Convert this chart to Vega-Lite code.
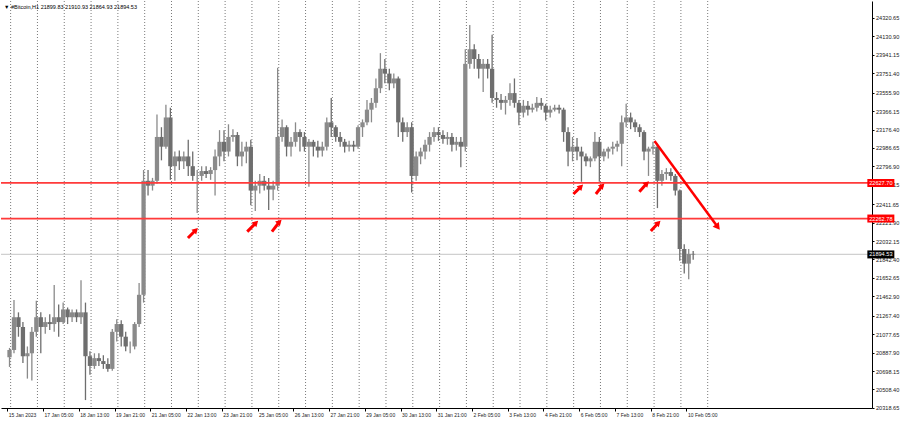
{
"$schema": "https://vega.github.io/schema/vega-lite/v6.json",
"width": 871, "height": 407,
"autosize": {"type": "none"},
"padding": {"left": 1, "top": 1, "right": 28, "bottom": 15},
"background": "#ffffff",
"config": {"view": {"stroke": null}, "font": "Liberation Sans",
  "axis": {"labelOverlap": false, "labelBound": false, "labelFlush": false, "grid": false, "domainColor": "#000000", "tickColor": "#000000", "labelColor": "#222222", "labelFont": "Liberation Sans"},
  "axisY": {"labelFontSize": 5.6, "tickSize": 2, "labelPadding": 1.5, "labelOverlap": false},
  "axisX": {"labelFontSize": 5, "tickSize": 3, "labelPadding": 1, "labelOverlap": false}},
"title": {"text": "▼  #Bitcoin,H1  21899.83 21910.93 21864.93 21894.53", "anchor": "start", "frame": "group", "offset": -10, "dx": 3, "fontSize": 5.5, "fontWeight": "normal", "font": "Liberation Sans", "color": "#000000"},
"datasets": {
"candles": [
{"h":2,"o":20840,"hi":20935,"lo":20740,"c":20914},
{"h":6,"o":20914,"hi":21427,"lo":20880,"c":21250},
{"h":10,"o":21250,"hi":21300,"lo":21050,"c":21150},
{"h":14,"o":21150,"hi":21200,"lo":20780,"c":20850},
{"h":18,"o":20850,"hi":20950,"lo":20620,"c":20880},
{"h":22,"o":20880,"hi":21150,"lo":20600,"c":21100},
{"h":26,"o":21100,"hi":21420,"lo":21050,"c":21250},
{"h":30,"o":21250,"hi":21300,"lo":20880,"c":21150},
{"h":34,"o":21150,"hi":21250,"lo":21080,"c":21200},
{"h":38,"o":21200,"hi":21280,"lo":21120,"c":21180},
{"h":42,"o":21180,"hi":21580,"lo":21100,"c":21250},
{"h":46,"o":21250,"hi":21380,"lo":21050,"c":21200},
{"h":50,"o":21200,"hi":21400,"lo":21180,"c":21330},
{"h":54,"o":21330,"hi":21350,"lo":21180,"c":21250},
{"h":58,"o":21250,"hi":21330,"lo":21200,"c":21300},
{"h":62,"o":21300,"hi":21330,"lo":21200,"c":21250},
{"h":66,"o":21250,"hi":21630,"lo":21180,"c":21300},
{"h":70,"o":21300,"hi":21400,"lo":20400,"c":20850},
{"h":74,"o":20850,"hi":20900,"lo":20660,"c":20750},
{"h":78,"o":20750,"hi":20880,"lo":20720,"c":20830},
{"h":82,"o":20830,"hi":20880,"lo":20750,"c":20800},
{"h":86,"o":20800,"hi":20860,"lo":20720,"c":20770},
{"h":90,"o":20770,"hi":20830,"lo":20690,"c":20720},
{"h":94,"o":20720,"hi":21130,"lo":20700,"c":21100},
{"h":98,"o":21100,"hi":21230,"lo":21000,"c":21180},
{"h":102,"o":21180,"hi":21220,"lo":20950,"c":21050},
{"h":106,"o":21050,"hi":21100,"lo":20900,"c":20950},
{"h":110,"o":20950,"hi":21000,"lo":20880,"c":20950},
{"h":114,"o":20950,"hi":21200,"lo":20920,"c":21180},
{"h":118,"o":21180,"hi":21600,"lo":21150,"c":21480},
{"h":122,"o":21480,"hi":22761,"lo":21400,"c":22650},
{"h":126,"o":22650,"hi":22760,"lo":22500,"c":22600},
{"h":130,"o":22600,"hi":22680,"lo":22550,"c":22650},
{"h":134,"o":22650,"hi":23330,"lo":22620,"c":23100},
{"h":138,"o":23100,"hi":23200,"lo":22860,"c":23000},
{"h":142,"o":23000,"hi":23430,"lo":22980,"c":23300},
{"h":146,"o":23300,"hi":23400,"lo":22660,"c":22800},
{"h":150,"o":22800,"hi":22950,"lo":22650,"c":22900},
{"h":154,"o":22900,"hi":22960,"lo":22760,"c":22850},
{"h":158,"o":22850,"hi":22950,"lo":22770,"c":22900},
{"h":162,"o":22900,"hi":23070,"lo":22700,"c":22800},
{"h":166,"o":22800,"hi":22950,"lo":22650,"c":22700},
{"h":170,"o":22700,"hi":22760,"lo":22320,"c":22700},
{"h":174,"o":22700,"hi":22800,"lo":22650,"c":22750},
{"h":178,"o":22750,"hi":22800,"lo":22680,"c":22720},
{"h":182,"o":22720,"hi":22790,"lo":22660,"c":22760},
{"h":186,"o":22760,"hi":22970,"lo":22500,"c":22900},
{"h":190,"o":22900,"hi":23170,"lo":22800,"c":23050},
{"h":194,"o":23050,"hi":23170,"lo":22850,"c":22950},
{"h":198,"o":22950,"hi":23230,"lo":22900,"c":23100},
{"h":202,"o":23100,"hi":23180,"lo":23050,"c":23120},
{"h":206,"o":23120,"hi":23150,"lo":22800,"c":22900},
{"h":210,"o":22900,"hi":23050,"lo":22800,"c":22950},
{"h":214,"o":22950,"hi":23050,"lo":22830,"c":23000},
{"h":218,"o":23000,"hi":23070,"lo":22400,"c":22550},
{"h":222,"o":22550,"hi":22650,"lo":22340,"c":22600},
{"h":226,"o":22600,"hi":22720,"lo":22520,"c":22650},
{"h":230,"o":22650,"hi":22700,"lo":22550,"c":22600},
{"h":234,"o":22600,"hi":22680,"lo":22350,"c":22560},
{"h":238,"o":22560,"hi":22650,"lo":22450,"c":22600},
{"h":242,"o":22600,"hi":23810,"lo":22550,"c":23100},
{"h":246,"o":23100,"hi":23280,"lo":23050,"c":23200},
{"h":250,"o":23200,"hi":23220,"lo":22900,"c":23000},
{"h":254,"o":23000,"hi":23100,"lo":22900,"c":23050},
{"h":258,"o":23050,"hi":23250,"lo":23000,"c":23150},
{"h":262,"o":23150,"hi":23180,"lo":22950,"c":23100},
{"h":266,"o":23100,"hi":23150,"lo":22950,"c":23000},
{"h":270,"o":23000,"hi":23080,"lo":22590,"c":23050},
{"h":274,"o":23050,"hi":23070,"lo":22900,"c":23000},
{"h":278,"o":23000,"hi":23060,"lo":22890,"c":22960},
{"h":282,"o":22960,"hi":23050,"lo":22900,"c":23000},
{"h":286,"o":23000,"hi":23300,"lo":22960,"c":23250},
{"h":290,"o":23250,"hi":23500,"lo":23100,"c":23200},
{"h":294,"o":23200,"hi":23220,"lo":23050,"c":23100},
{"h":298,"o":23100,"hi":23150,"lo":23000,"c":23050},
{"h":302,"o":23050,"hi":23080,"lo":22940,"c":23000},
{"h":306,"o":23000,"hi":23060,"lo":22950,"c":23020},
{"h":310,"o":23020,"hi":23060,"lo":22950,"c":23000},
{"h":314,"o":23000,"hi":23220,"lo":22980,"c":23200},
{"h":318,"o":23200,"hi":23280,"lo":23100,"c":23250},
{"h":322,"o":23250,"hi":23480,"lo":23220,"c":23380},
{"h":326,"o":23380,"hi":23500,"lo":23250,"c":23450},
{"h":330,"o":23450,"hi":23700,"lo":23400,"c":23600},
{"h":334,"o":23600,"hi":23960,"lo":23550,"c":23800},
{"h":338,"o":23800,"hi":23900,"lo":23650,"c":23750},
{"h":342,"o":23750,"hi":23800,"lo":23580,"c":23650},
{"h":346,"o":23650,"hi":23750,"lo":23600,"c":23700},
{"h":350,"o":23700,"hi":23720,"lo":23100,"c":23250},
{"h":354,"o":23250,"hi":23300,"lo":23050,"c":23150},
{"h":358,"o":23150,"hi":23250,"lo":23100,"c":23200},
{"h":362,"o":23200,"hi":23250,"lo":22530,"c":22700},
{"h":366,"o":22700,"hi":22950,"lo":22650,"c":22900},
{"h":370,"o":22900,"hi":22990,"lo":22820,"c":22950},
{"h":374,"o":22950,"hi":23070,"lo":22870,"c":23020},
{"h":378,"o":23020,"hi":23150,"lo":22950,"c":23100},
{"h":382,"o":23100,"hi":23200,"lo":23050,"c":23150},
{"h":386,"o":23150,"hi":23200,"lo":23060,"c":23120},
{"h":390,"o":23120,"hi":23170,"lo":23030,"c":23080},
{"h":394,"o":23080,"hi":23150,"lo":23020,"c":23100},
{"h":398,"o":23100,"hi":23140,"lo":22950,"c":23020},
{"h":402,"o":23020,"hi":23100,"lo":22960,"c":23050},
{"h":406,"o":23050,"hi":23100,"lo":22790,"c":23000},
{"h":410,"o":23000,"hi":24000,"lo":22950,"c":23850},
{"h":414,"o":23850,"hi":24250,"lo":23800,"c":24000},
{"h":418,"o":24000,"hi":24050,"lo":23800,"c":23900},
{"h":422,"o":23900,"hi":23950,"lo":23700,"c":23800},
{"h":426,"o":23800,"hi":23900,"lo":23560,"c":23850},
{"h":430,"o":23850,"hi":23900,"lo":23700,"c":23800},
{"h":434,"o":23800,"hi":24150,"lo":23450,"c":23500},
{"h":438,"o":23500,"hi":23560,"lo":23400,"c":23480},
{"h":442,"o":23480,"hi":23540,"lo":23380,"c":23450},
{"h":446,"o":23450,"hi":23520,"lo":23330,"c":23480},
{"h":450,"o":23480,"hi":23650,"lo":23420,"c":23550},
{"h":454,"o":23550,"hi":23700,"lo":23400,"c":23450},
{"h":458,"o":23450,"hi":23480,"lo":23220,"c":23350},
{"h":462,"o":23350,"hi":23480,"lo":23300,"c":23420},
{"h":466,"o":23420,"hi":23470,"lo":23320,"c":23380},
{"h":470,"o":23380,"hi":23440,"lo":23350,"c":23400},
{"h":474,"o":23400,"hi":23510,"lo":23360,"c":23450},
{"h":478,"o":23450,"hi":23500,"lo":23380,"c":23420},
{"h":482,"o":23420,"hi":23440,"lo":23270,"c":23350},
{"h":486,"o":23350,"hi":23420,"lo":23300,"c":23380},
{"h":490,"o":23380,"hi":23430,"lo":23360,"c":23400},
{"h":494,"o":23400,"hi":23430,"lo":23340,"c":23380},
{"h":498,"o":23380,"hi":23400,"lo":23050,"c":23150},
{"h":502,"o":23150,"hi":23200,"lo":22800,"c":22950},
{"h":506,"o":22950,"hi":23100,"lo":22850,"c":23000},
{"h":510,"o":23000,"hi":23090,"lo":22860,"c":22950},
{"h":514,"o":22950,"hi":23000,"lo":22640,"c":22900},
{"h":518,"o":22900,"hi":22930,"lo":22800,"c":22850},
{"h":522,"o":22850,"hi":22900,"lo":22790,"c":22880},
{"h":526,"o":22880,"hi":23150,"lo":22850,"c":23050},
{"h":530,"o":23050,"hi":23100,"lo":22640,"c":22900},
{"h":534,"o":22900,"hi":22980,"lo":22850,"c":22950},
{"h":538,"o":22950,"hi":23000,"lo":22880,"c":22980},
{"h":542,"o":22980,"hi":23050,"lo":22920,"c":23000},
{"h":546,"o":23000,"hi":23060,"lo":22950,"c":23030},
{"h":550,"o":23030,"hi":23320,"lo":22800,"c":23250},
{"h":554,"o":23250,"hi":23440,"lo":23200,"c":23300},
{"h":558,"o":23300,"hi":23350,"lo":23180,"c":23250},
{"h":562,"o":23250,"hi":23280,"lo":23150,"c":23200},
{"h":566,"o":23200,"hi":23230,"lo":23100,"c":23150},
{"h":570,"o":23150,"hi":23170,"lo":22860,"c":22950},
{"h":574,"o":22950,"hi":23000,"lo":22700,"c":22980},
{"h":578,"o":22980,"hi":23050,"lo":22920,"c":23000},
{"h":582,"o":23000,"hi":23030,"lo":22370,"c":22650},
{"h":586,"o":22650,"hi":22760,"lo":22600,"c":22720},
{"h":590,"o":22720,"hi":22780,"lo":22660,"c":22740},
{"h":594,"o":22740,"hi":22780,"lo":22650,"c":22700},
{"h":598,"o":22700,"hi":22720,"lo":22500,"c":22550},
{"h":602,"o":22550,"hi":22560,"lo":21830,"c":21950},
{"h":606,"o":21950,"hi":22000,"lo":21700,"c":21800},
{"h":610,"o":21800,"hi":21950,"lo":21640,"c":21900},
{"h":614,"o":21900,"hi":21930,"lo":21840,"c":21894.53}
],
"grid": [{"h":3},{"h":27},{"h":51},{"h":75},{"h":99},{"h":123},{"h":147},{"h":171},{"h":195},{"h":219},{"h":243},{"h":267},{"h":291},{"h":315},{"h":339},{"h":363},{"h":387},{"h":411},{"h":435},{"h":459},{"h":483},{"h":507},{"h":531},{"h":555},{"h":579},{"h":603},{"h":627}],
"levels": [{"p":22627.70,"kind":"level"},{"p":22262.78,"kind":"level"},{"p":21894.53,"kind":"bid"}],
"arrows": [
{"h1":161.7,"p1":22063,"h2":168.8,"p2":22145},
{"h1":214.8,"p1":22128,"h2":222.7,"p2":22220},
{"h1":236.9,"p1":22128,"h2":243.7,"p2":22230},
{"h1":506.8,"p1":22515,"h2":513.6,"p2":22590},
{"h1":526.9,"p1":22515,"h2":532.7,"p2":22600},
{"h1":565.8,"p1":22538,"h2":572.6,"p2":22624},
{"h1":576.1,"p1":22135,"h2":582.9,"p2":22220}
],
"trend": [{"h1":579.4,"p1":23058,"h2":636.0,"p2":22176}]
},
"layer": [
{"data": {"name": "grid"}, "mark": {"type": "rule", "stroke": "#7a7a7a", "strokeDash": [1, 2], "strokeWidth": 1},
 "encoding": {"x": {"field": "h", "type": "quantitative", "title": null,
   "scale": {"domain": [-1.15, 769.6], "nice": false, "zero": false},
   "axis": {"values": [0,32,64,96,128,160,192,224,256,288,320,352,384,416,448,480,512,544,576,608],
     "tickCount": 60,
     "labelExpr": "['15 Jan 2023','17 Jan 05:00','18 Jan 13:00','19 Jan 21:00','21 Jan 05:00','22 Jan 13:00','23 Jan 21:00','25 Jan 05:00','26 Jan 13:00','27 Jan 21:00','29 Jan 05:00','30 Jan 13:00','31 Jan 21:00','2 Feb 05:00','3 Feb 13:00','4 Feb 21:00','6 Feb 05:00','7 Feb 13:00','8 Feb 21:00','10 Feb 05:00'][round(datum.value/32)]",
     "labelAlign": "left", "labelOffset": 1, "labelOverlap": false, "title": null}}}},
{"data": {"name": "levels"}, "transform": [{"filter": "datum.kind == 'bid'"}],
 "mark": {"type": "rule", "stroke": "#d0d0d0", "strokeWidth": 1.3},
 "encoding": {"y": {"field": "p", "type": "quantitative", "title": null}}},
{"data": {"name": "candles"}, "mark": {"type": "rule", "strokeWidth": 1.3},
 "encoding": {
  "x": {"field": "h", "type": "quantitative", "title": null},
  "y": {"field": "lo", "type": "quantitative", "title": null,
    "scale": {"domain": [20318.5, 24495.1], "nice": false, "zero": false},
    "axis": {"orient": "right", "values": [24320.65,24130.90,23941.15,23751.40,23555.90,23366.15,23176.40,22986.65,22796.90,22607.15,22411.65,22221.90,22032.15,21842.40,21652.65,21462.90,21267.40,21077.65,20887.90,20698.15,20508.40,20318.65],
      "tickCount": 60, "format": ".2f", "labelOverlap": false, "title": null}},
  "y2": {"field": "hi"},
  "color": {"condition": {"test": "datum.c >= datum.o", "value": "#8a8a8a"}, "value": "#6e6e6e"}}},
{"data": {"name": "candles"}, "mark": {"type": "bar", "width": 4.3},
 "encoding": {
  "x": {"field": "h", "type": "quantitative", "title": null},
  "y": {"field": "o", "type": "quantitative", "title": null},
  "y2": {"field": "c"},
  "color": {"condition": {"test": "datum.c >= datum.o", "value": "#8a8a8a"}, "value": "#6e6e6e"}}},
{"data": {"name": "levels"}, "transform": [{"filter": "datum.kind == 'level'"}],
 "mark": {"type": "rule", "stroke": "#ff3a3a", "strokeWidth": 1.7},
 "encoding": {"y": {"field": "p", "type": "quantitative", "title": null}}},
{"data": {"name": "arrows"}, "mark": {"type": "rule", "stroke": "#ff0000", "strokeWidth": 3},
 "encoding": {"x": {"field": "h1", "type": "quantitative", "title": null}, "y": {"field": "p1", "type": "quantitative", "title": null},
   "x2": {"field": "h2"}, "y2": {"field": "p2"}}},
{"data": {"name": "arrows"}, "mark": {"type": "point", "shape": "triangle-up", "angle": 45, "filled": true, "color": "#ff0000", "size": 45, "opacity": 1},
 "encoding": {"x": {"field": "h2", "type": "quantitative", "title": null}, "y": {"field": "p2", "type": "quantitative", "title": null}}},
{"data": {"name": "trend"}, "mark": {"type": "rule", "stroke": "#ff0000", "strokeWidth": 2.5},
 "encoding": {"x": {"field": "h1", "type": "quantitative", "title": null}, "y": {"field": "p1", "type": "quantitative", "title": null},
   "x2": {"field": "h2"}, "y2": {"field": "p2"}}},
{"data": {"name": "trend"}, "mark": {"type": "point", "shape": "triangle-up", "angle": 143, "filled": true, "color": "#ff0000", "size": 60, "opacity": 1},
 "encoding": {"x": {"field": "h2", "type": "quantitative", "title": null}, "y": {"field": "p2", "type": "quantitative", "title": null}}},
{"data": {"name": "levels"}, "mark": {"type": "tick", "orient": "horizontal", "size": 27, "thickness": 8, "opacity": 1, "clip": false},
 "encoding": {"x": {"datum": 782, "type": "quantitative"}, "y": {"field": "p", "type": "quantitative", "title": null},
   "color": {"field": "kind", "type": "nominal", "scale": {"domain": ["level", "bid"], "range": ["#ff0000", "#000000"]}, "legend": null}}},
{"data": {"name": "levels"}, "mark": {"type": "text", "color": "#ffffff", "fontSize": 5.6, "font": "Liberation Sans", "align": "center", "baseline": "middle", "clip": false},
 "encoding": {"x": {"datum": 782, "type": "quantitative"}, "y": {"field": "p", "type": "quantitative", "title": null},
   "text": {"field": "p", "type": "quantitative", "format": ".2f"}}}
]
}
